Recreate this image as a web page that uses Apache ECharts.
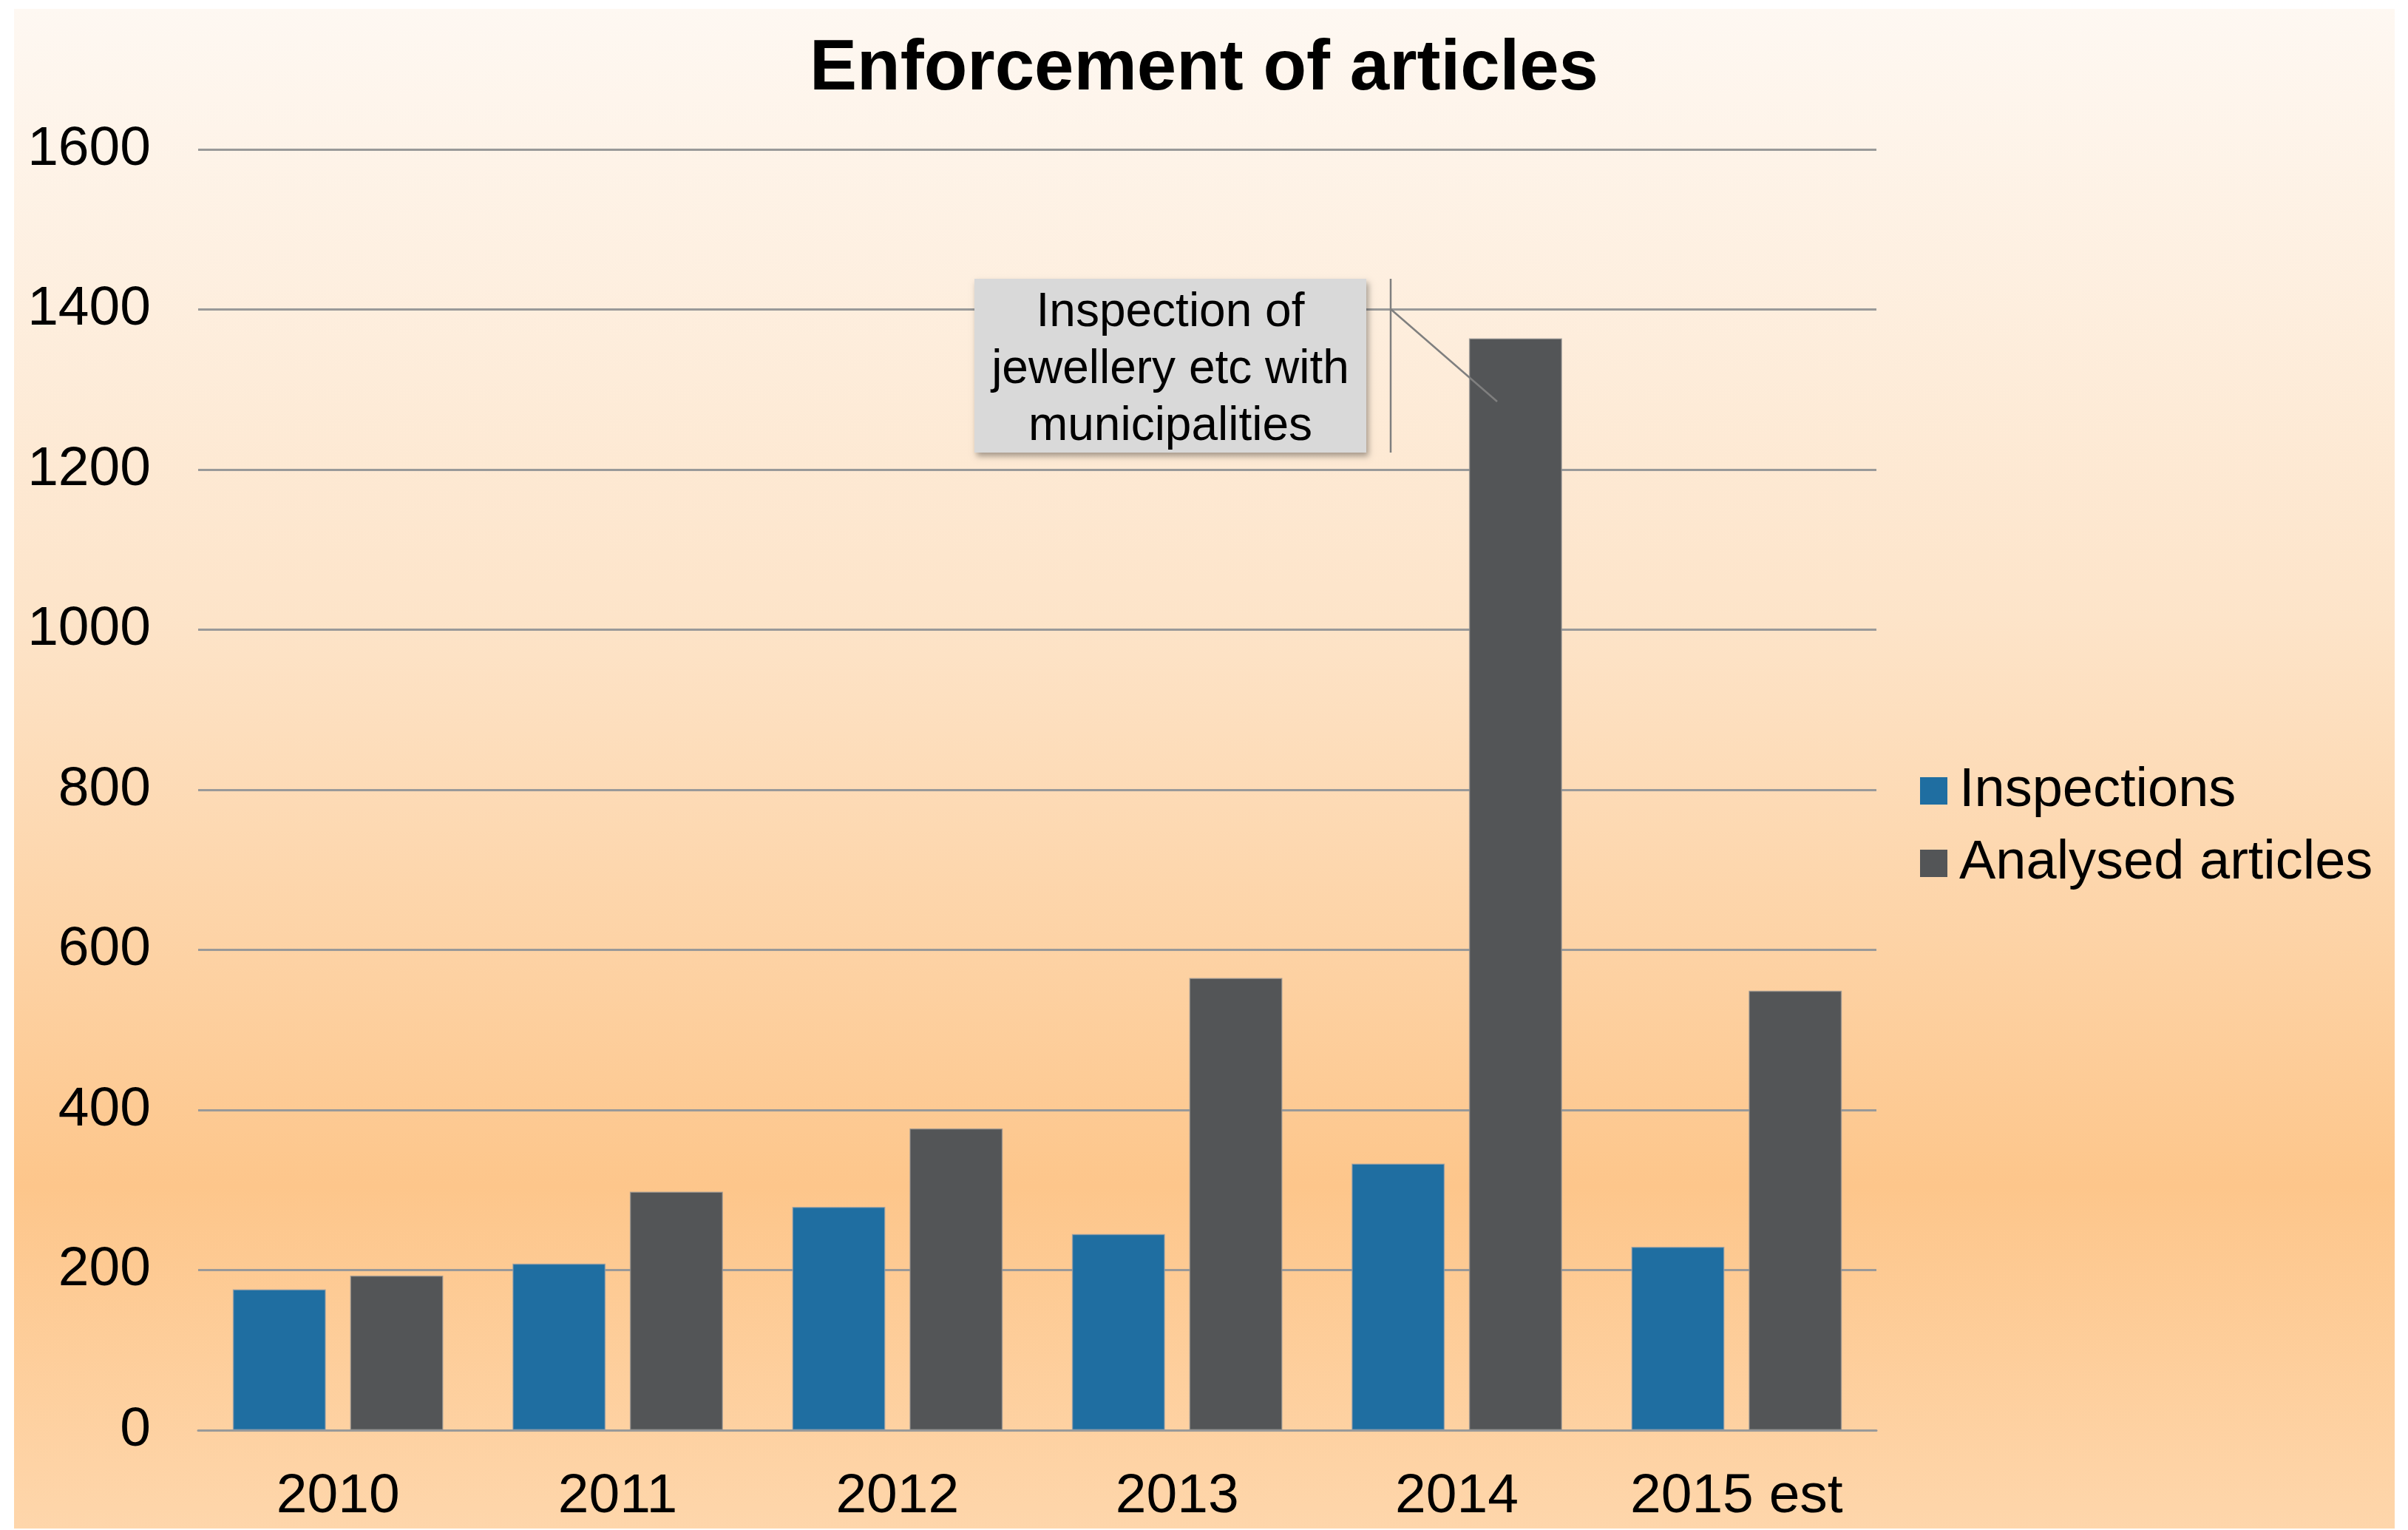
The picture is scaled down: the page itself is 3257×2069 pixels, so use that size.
<!DOCTYPE html>
<html>
<head>
<meta charset="utf-8">
<title>Enforcement of articles</title>
<script src="https://cdn.jsdelivr.net/npm/echarts@6/dist/echarts.min.js"></script>
<style>
  html, body { margin: 0; padding: 0; background: #ffffff; }
  #chart { width: 3257px; height: 2069px; }
</style>
</head>
<body>
<div id="chart"></div>
<script>
// ---- data ----
const titleText = 'Enforcement of articles';
const categories = ['2010', '2011', '2012', '2013', '2014', '2015 est'];
const inspections = [176, 208, 279, 245, 333, 229];
const analysedArticles = [193, 298, 377, 565, 1364, 549];
const seriesNames = ['Inspections', 'Analysed articles'];
const yTicks = { min: 0, max: 1600, interval: 200 };
const annotationLines = ['Inspection of', 'jewellery etc with', 'municipalities'];

const FONT = "'Liberation Sans', Arial, Helvetica, sans-serif";
const BLUE = '#1f6ea1';
const GRAY = '#535557';

const chart = echarts.init(document.getElementById('chart'), null, { renderer: 'canvas' });

const option = {
  animation: false,
  backgroundColor: '#ffffff',
  textStyle: { fontFamily: FONT },
  title: {
    text: titleText,
    left: 'center',
    top: 42,
    textStyle: { fontFamily: FONT, fontSize: 96, fontWeight: 'bold', color: '#000000', lineHeight: 96 }
  },
  legend: {
    orient: 'vertical',
    left: 2592,
    top: 1027,
    itemWidth: 37,
    itemHeight: 37,
    itemGap: 23,
    icon: 'rect',
    data: seriesNames,
    textStyle: { fontFamily: FONT, fontSize: 74, color: '#000000', lineHeight: 75, padding: [0, 0, 0, 11] },
    itemStyle: { borderWidth: 0 }
  },
  grid: { left: 268, right: 719, top: 202, bottom: 135, containLabel: false },
  xAxis: {
    type: 'category',
    data: categories,
    axisTick: { show: false },
    axisLine: { show: true, lineStyle: { color: '#999999', width: 3 } },
    axisLabel: { fontFamily: FONT, fontSize: 75, color: '#000000', margin: 53, lineHeight: 75, interval: 0 },
    splitLine: { show: false }
  },
  yAxis: {
    type: 'value',
    min: yTicks.min,
    max: yTicks.max,
    interval: yTicks.interval,
    axisLine: { show: false },
    axisTick: { show: false },
    axisLabel: {
      fontFamily: FONT, fontSize: 75, color: '#000000', margin: 64,
      formatter: function (v) { return String(v); }
    },
    splitLine: { show: true, lineStyle: { color: '#999999', width: 3 } }
  },
  series: [
    {
      name: seriesNames[0],
      type: 'bar',
      data: inspections,
      barWidth: '33.3%',
      barGap: '26%',
      itemStyle: { color: BLUE, borderColor: 'rgba(150,160,170,0.7)', borderWidth: 1.5 },
      z: 3
    },
    {
      name: seriesNames[1],
      type: 'bar',
      data: analysedArticles,
      barWidth: '33.3%',
      barGap: '26%',
      itemStyle: { color: GRAY, borderColor: 'rgba(150,150,150,0.7)', borderWidth: 1.5 },
      z: 3
    }
  ],
  graphic: [
    {
      type: 'rect',
      silent: true,
      z: -100,
      shape: { x: 19, y: 12, width: 3220, height: 2055 },
      style: {
        fill: new echarts.graphic.LinearGradient(0, 0, 0, 1, [
          { offset: 0, color: '#fef8f2' },
          { offset: 0.4, color: '#fde4c9' },
          { offset: 0.775, color: '#fdc68b' },
          { offset: 1, color: '#fed6ab' }
        ])
      }
    },
    {
      type: 'rect',
      z: 100,
      shape: { x: 1318, y: 377, width: 530, height: 235 },
      style: {
        fill: '#d9d9d9',
        shadowBlur: 8,
        shadowOffsetX: 3,
        shadowOffsetY: 5,
        shadowColor: 'rgba(0,0,0,0.35)'
      }
    },
    {
      type: 'text',
      z: 101,
      x: 1583,
      y: 500,
      style: {
        text: annotationLines.join('\n'),
        fontFamily: FONT,
        fontSize: 64,
        lineHeight: 77,
        fill: '#000000',
        align: 'center',
        verticalAlign: 'middle'
      }
    },
    {
      type: 'line',
      z: 100,
      shape: { x1: 1881, y1: 377, x2: 1881, y2: 612 },
      style: { stroke: '#7f7f7f', lineWidth: 2.5 }
    },
    {
      type: 'line',
      z: 100,
      shape: { x1: 1881, y1: 418, x2: 2025, y2: 543 },
      style: { stroke: '#7f7f7f', lineWidth: 2.5 }
    }
  ]
};

chart.setOption(option);
</script>
</body>
</html>
